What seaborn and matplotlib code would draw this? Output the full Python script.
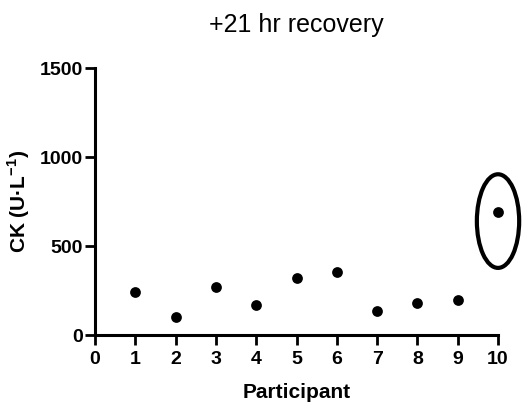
import seaborn as sns
import pandas as pd
import matplotlib.pyplot as plt
from matplotlib.patches import Ellipse

# 참가자별 CK 값 (+21 hr recovery)
participants = [1, 2, 3, 4, 5, 6, 7, 8, 9, 10]
ck_values = [244, 103, 267, 166, 319, 356, 134, 177, 196, 690]
x_ticks = [0, 1, 2, 3, 4, 5, 6, 7, 8, 9, 10]
y_ticks = [0, 500, 1000, 1500]

df = pd.DataFrame({'participant': participants, 'ck': ck_values})

sns.set_style('ticks')
plt.rcParams['font.family'] = ['Liberation Sans', 'DejaVu Sans']
plt.rcParams['mathtext.fontset'] = 'custom'
plt.rcParams['mathtext.rm'] = 'Liberation Sans'
plt.rcParams['mathtext.bf'] = 'Liberation Sans:bold'
plt.rcParams['text.color'] = 'black'
plt.rcParams['axes.labelcolor'] = 'black'
plt.rcParams['xtick.color'] = 'black'
plt.rcParams['ytick.color'] = 'black'
plt.rcParams['axes.edgecolor'] = 'black'

fig = plt.figure(figsize=(5.26, 4.07), dpi=100)
ax = fig.add_axes([0.1806, 0.1769, 0.7662, 0.656])

sns.scatterplot(data=df, x='participant', y='ck', color='black', s=60,
                edgecolor='black', linewidth=0, ax=ax, clip_on=False, zorder=3)

# 이상치 표시용 타원
ax.add_patch(Ellipse((10, 640), width=1.05, height=526, fill=False,
                     edgecolor='black', linewidth=3, clip_on=False))

ax.set_xlim(0, 10)
ax.set_ylim(0, 1500)
ax.set_xticks(x_ticks)
ax.set_yticks(y_ticks)
ax.set_xticklabels([str(t) for t in x_ticks], fontweight='bold', fontsize=14)
ax.set_yticklabels([str(t) for t in y_ticks], fontweight='bold', fontsize=14)
ax.tick_params(width=2, length=7.5, direction='out', pad=4)
ax.tick_params(axis='y', pad=1)

for side in ['top', 'right']:
    ax.spines[side].set_visible(False)
for side in ['left', 'bottom']:
    ax.spines[side].set_linewidth(2.2)

ax.set_xlabel('Participant', fontweight='bold', fontsize=15, labelpad=11)
ax.set_ylabel('CK (U·L$^{\\mathbf{-1}}$)', fontweight='bold', fontsize=15, labelpad=6)
ax.set_title('+21 hr recovery', fontsize=18, pad=26)

plt.savefig('out.png', dpi=100)
